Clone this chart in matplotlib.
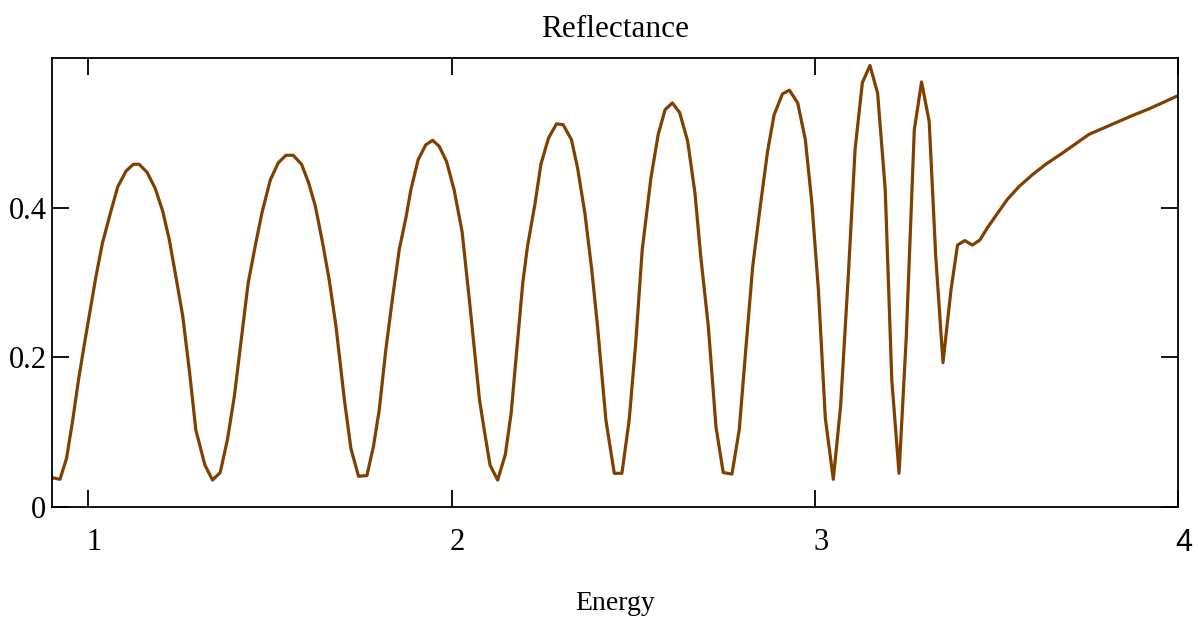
import matplotlib
matplotlib.use("Agg")
import matplotlib.pyplot as plt
from matplotlib.transforms import ScaledTranslation

# Reflectance vs photon energy
energy = [0.902, 0.922, 0.940, 0.957, 0.973, 0.991, 1.007, 1.021, 1.039, 1.061,
          1.081, 1.104, 1.124, 1.140, 1.162, 1.184, 1.205, 1.223, 1.241, 1.260,
          1.278, 1.296, 1.321, 1.342, 1.363, 1.383, 1.402, 1.420, 1.440, 1.460,
          1.478, 1.501, 1.523, 1.544, 1.564, 1.587, 1.606, 1.625, 1.645, 1.663,
          1.682, 1.705, 1.723, 1.744, 1.767, 1.785, 1.801, 1.819, 1.838, 1.856,
          1.875, 1.888, 1.908, 1.929, 1.948, 1.966, 1.986, 2.007, 2.029, 2.049,
          2.063, 2.077, 2.090, 2.106, 2.127, 2.148, 2.164, 2.182, 2.196, 2.209,
          2.230, 2.246, 2.267, 2.289, 2.307, 2.330, 2.347, 2.367, 2.386, 2.402,
          2.425, 2.448, 2.469, 2.489, 2.507, 2.525, 2.549, 2.569, 2.588, 2.608,
          2.628, 2.650, 2.670, 2.686, 2.707, 2.728, 2.748, 2.772, 2.792, 2.810,
          2.829, 2.850, 2.870, 2.888, 2.911, 2.930, 2.953, 2.974, 2.992, 3.010,
          3.029, 3.051, 3.071, 3.093, 3.111, 3.131, 3.152, 3.173, 3.194, 3.212,
          3.232, 3.252, 3.274, 3.294, 3.315, 3.333, 3.353, 3.375, 3.393, 3.413,
          3.434, 3.455, 3.475, 3.530, 3.562, 3.599, 3.636, 3.682, 3.755, 3.874,
          3.920, 3.997]
reflectance = [0.039, 0.037, 0.065, 0.116, 0.170, 0.223, 0.268, 0.308, 0.353, 0.393,
               0.428, 0.449, 0.458, 0.458, 0.447, 0.426, 0.395, 0.357, 0.308, 0.255,
               0.183, 0.103, 0.056, 0.036, 0.046, 0.090, 0.148, 0.219, 0.299, 0.350,
               0.393, 0.437, 0.460, 0.470, 0.470, 0.458, 0.434, 0.402, 0.353, 0.304,
               0.241, 0.143, 0.078, 0.041, 0.042, 0.081, 0.130, 0.210, 0.281, 0.344,
               0.388, 0.424, 0.464, 0.484, 0.490, 0.482, 0.462, 0.424, 0.368, 0.277,
               0.210, 0.143, 0.103, 0.056, 0.036, 0.070, 0.125, 0.223, 0.299, 0.348,
               0.406, 0.458, 0.493, 0.512, 0.511, 0.491, 0.453, 0.393, 0.317, 0.241,
               0.116, 0.045, 0.045, 0.116, 0.219, 0.344, 0.440, 0.498, 0.531, 0.540,
               0.527, 0.489, 0.420, 0.335, 0.241, 0.107, 0.046, 0.044, 0.103, 0.210,
               0.321, 0.402, 0.475, 0.524, 0.552, 0.557, 0.540, 0.491, 0.406, 0.290,
               0.119, 0.037, 0.134, 0.315, 0.478, 0.567, 0.590, 0.553, 0.424, 0.170,
               0.045, 0.228, 0.504, 0.568, 0.515, 0.335, 0.193, 0.290, 0.350, 0.356,
               0.350, 0.357, 0.373, 0.411, 0.428, 0.444, 0.458, 0.473, 0.498, 0.523,
               0.532, 0.549]

x_ticks = [1, 2, 3, 4]
x_tick_labels = ["1", "2", "3", "4"]
y_ticks = [0, 0.2, 0.4]
y_tick_labels = ["0", "0.2", "0.4"]

plt.rcParams['font.family'] = ['Liberation Serif', 'DejaVu Serif']

fig = plt.figure(figsize=(11.98, 6.19), dpi=100)
ax = fig.add_axes([52 / 1198, 112 / 619, 1126 / 1198, 449 / 619])

ax.plot(energy, reflectance, color="#804000", linewidth=2.3)

ax.set_xlim(0.9, 4.0)
ax.set_ylim(0, 0.6)

ax.set_xticks(x_ticks)
ax.set_xticklabels(x_tick_labels)
ax.set_yticks(y_ticks)
ax.set_yticklabels(y_tick_labels)

ax.tick_params(axis="both", direction="in", length=12, width=1.3,
               top=True, right=True, labelsize=22)
ax.tick_params(axis="x", pad=15)
ax.tick_params(axis="y", pad=4)

# x labels sit a little right of their ticks in the original
offset = ScaledTranslation(6 / 100, 0, fig.dpi_scale_trans)
for t in ax.xaxis.get_major_ticks():
    t.label1.set_transform(t.label1.get_transform() + offset)
# the "4" is drawn in a sans face
ax.xaxis.get_major_ticks()[-1].label1.set_fontfamily(["Liberation Sans"])

for sp in ax.spines.values():
    sp.set_linewidth(1.3)

ax.set_title("Reflectance", fontsize=22.5, pad=15)
ax.set_xlabel("Energy", fontsize=20, labelpad=24)

fig.savefig("out.png", dpi=100)
